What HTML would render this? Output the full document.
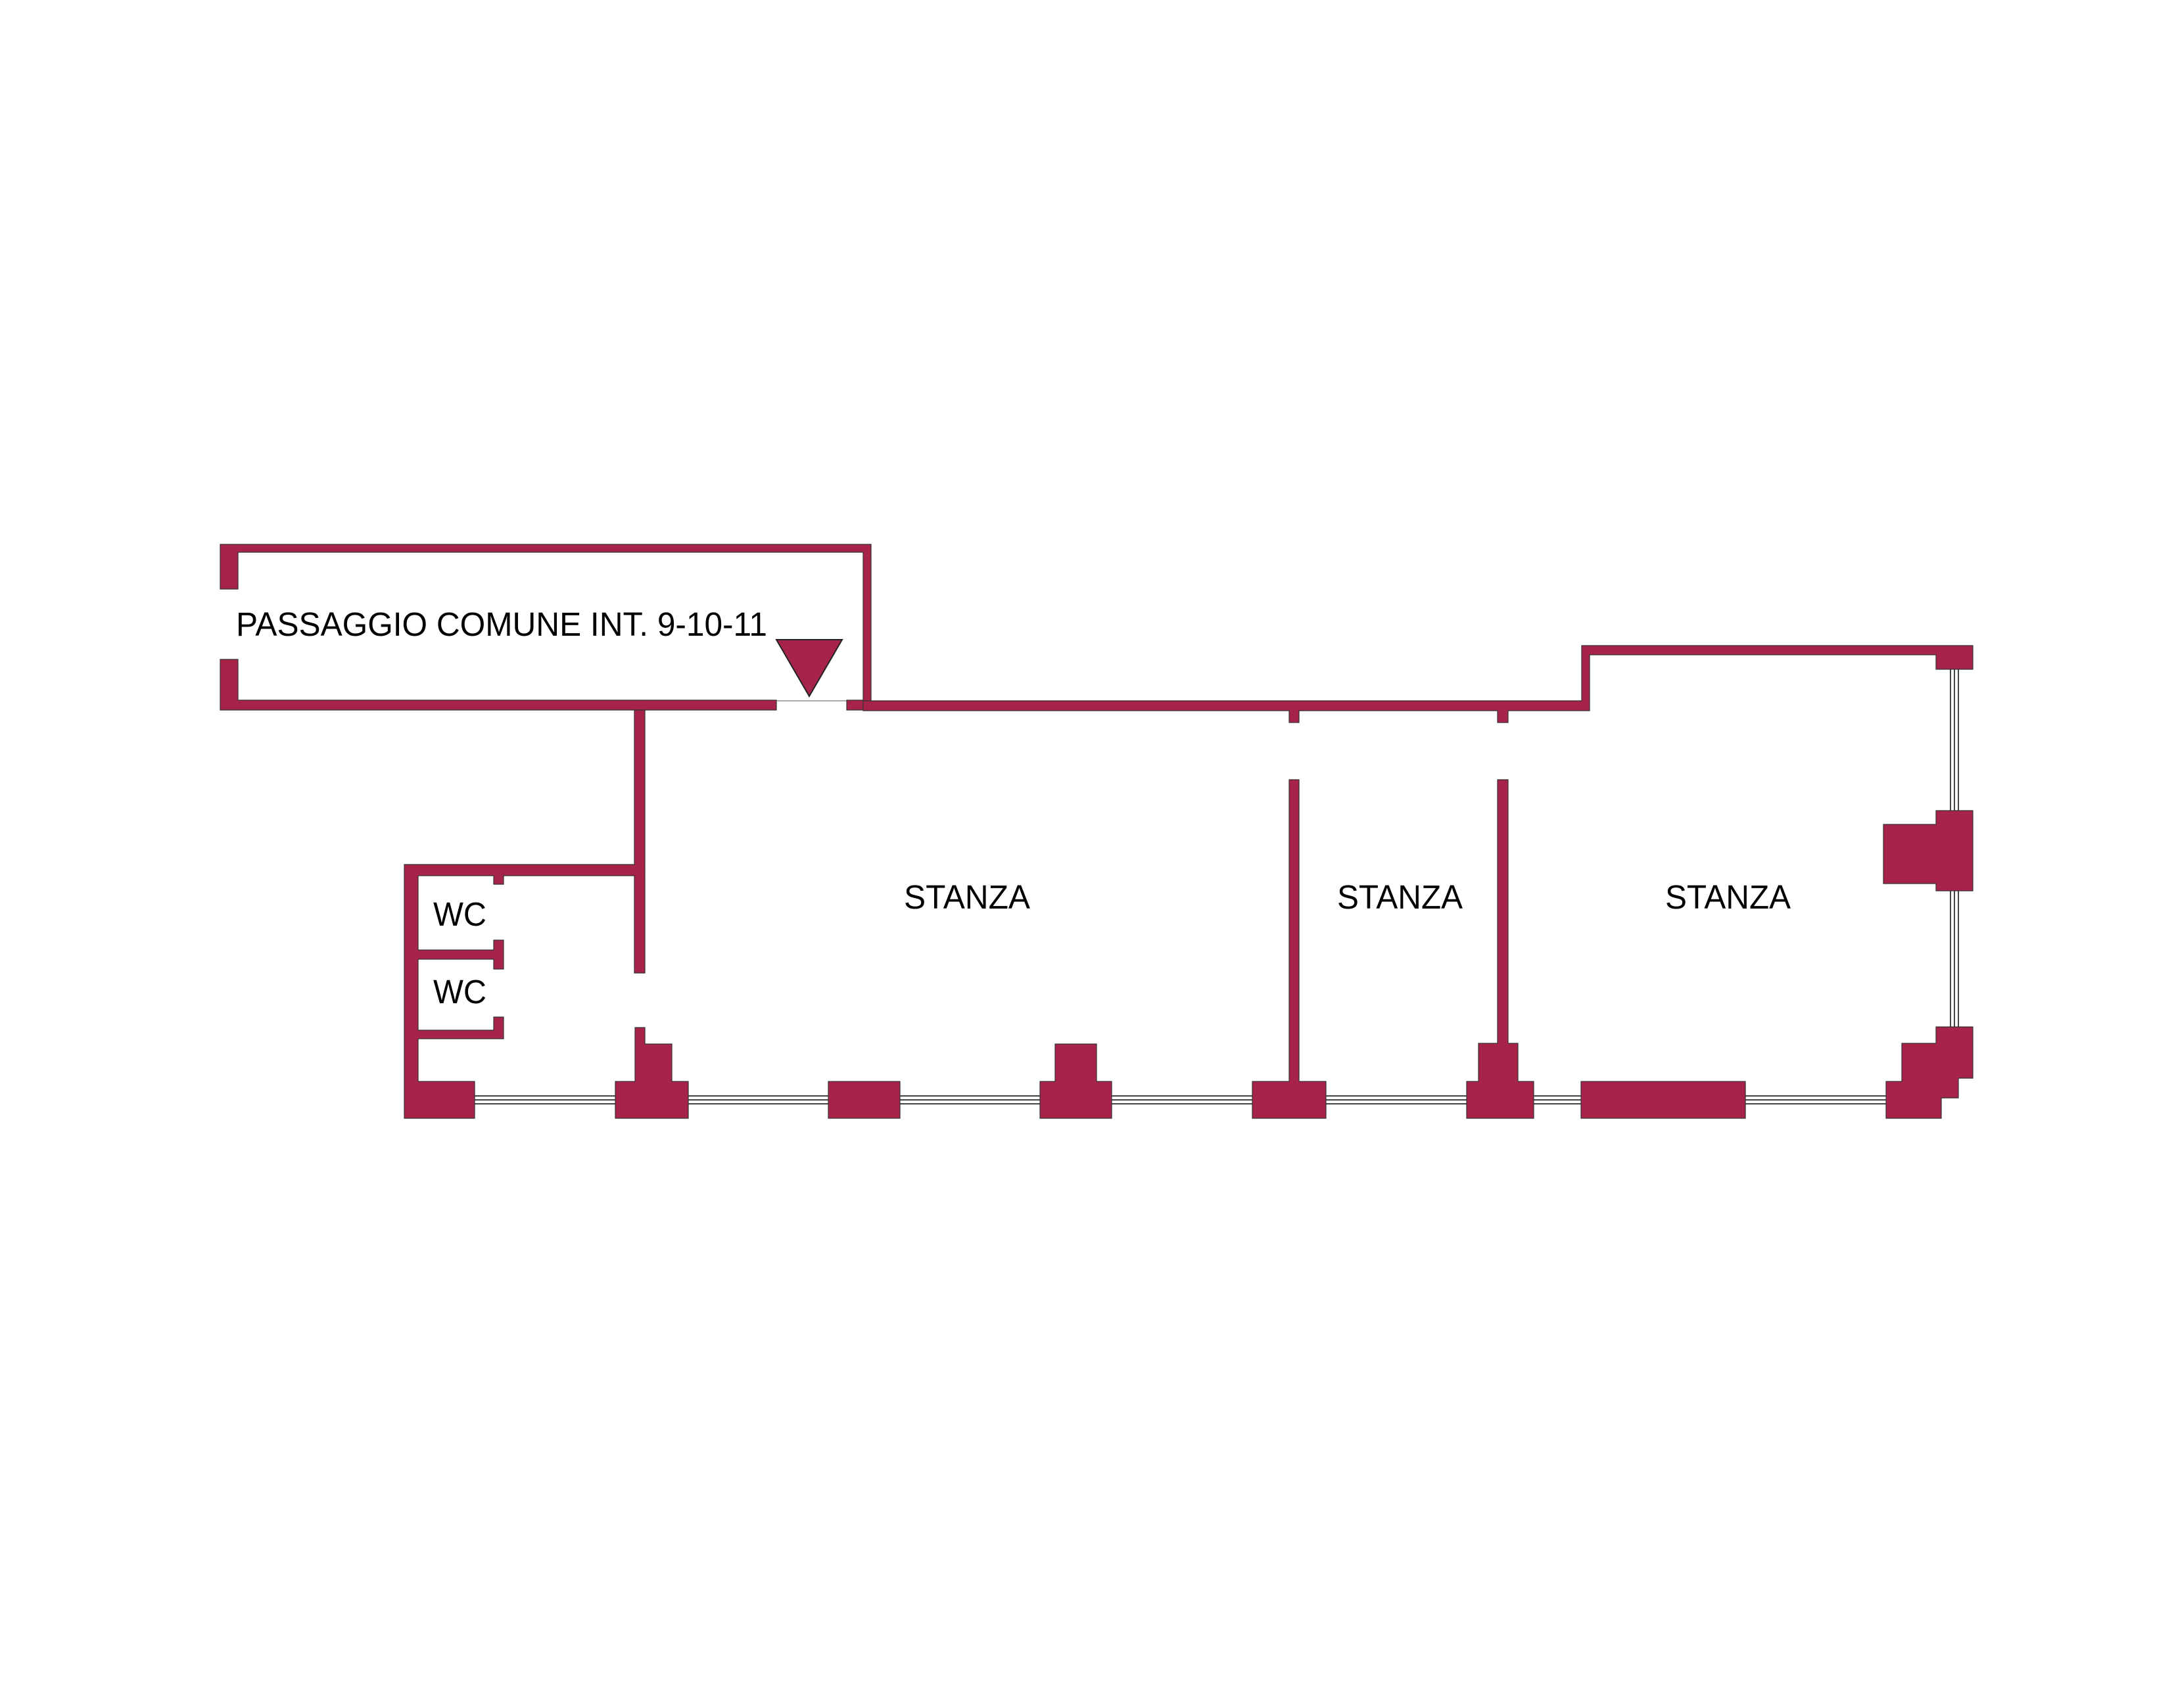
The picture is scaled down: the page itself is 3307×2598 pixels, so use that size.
<!DOCTYPE html>
<html><head><meta charset="utf-8"><style>html,body{margin:0;padding:0;background:#fff}svg{display:block}</style></head>
<body>
<svg width="3307" height="2598" viewBox="0 0 3307 2598" xmlns="http://www.w3.org/2000/svg">
<g stroke="#333" stroke-width="1.2">
<g fill="none" stroke="#444" stroke-width="2">
<line x1="722" y1="1667" x2="2869" y2="1667"/>
<line x1="722" y1="1673" x2="2869" y2="1673"/>
<line x1="722" y1="1679" x2="2869" y2="1679"/>
<line x1="2967" y1="1018" x2="2967" y2="1562"/>
<line x1="2973" y1="1018" x2="2973" y2="1562"/>
<line x1="2979" y1="1018" x2="2979" y2="1562"/>
</g>
<g fill="#A8234A">
<polygon points="335,828 1325,828 1325,1080 1288,1080 1288,1065 1313,1065 1313,840 362,840 362,896 335,896"/>
<polygon points="335,1003 362,1003 362,1065 1181,1065 1181,1080 335,1080"/>
<polygon points="1313,1066 2406,1066 2406,982 3001,982 3001,1018 2945,1018 2945,996 2418,996 2418,1081 2294,1081 2294,1099 2278,1099 2278,1081 1976,1081 1976,1099 1961,1099 1961,1081 1313,1081"/>
<polygon points="965,1080 981,1080 981,1480 965,1480 965,1332 766,1332 766,1345 751,1345 751,1332 636,1332 636,1445 751,1445 751,1430 766,1430 766,1474 751,1474 751,1459 636,1459 636,1567 751,1567 751,1547 766,1547 766,1580 636,1580 636,1645 722,1645 722,1701 615,1701 615,1315 965,1315"/>
<polygon points="966,1563 981,1563 981,1588 1022,1588 1022,1645 1047,1645 1047,1701 936,1701 936,1645 966,1645"/>
<rect x="1260" y="1645" width="109" height="56"/>
<polygon points="1605,1588 1668,1588 1668,1645 1691,1645 1691,1701 1582,1701 1582,1645 1605,1645"/>
<polygon points="1961,1186 1976,1186 1976,1645 2017,1645 2017,1701 1905,1701 1905,1645 1961,1645"/>
<polygon points="2278,1186 2294,1186 2294,1587 2309,1587 2309,1645 2333,1645 2333,1701 2231,1701 2231,1645 2249,1645 2249,1587 2278,1587"/>
<rect x="2405" y="1645" width="250" height="56"/>
<polygon points="2953,1701 2869,1701 2869,1645 2893,1645 2893,1587 2945,1587 2945,1562 3001,1562 3001,1640 2979,1640 2979,1670 2953,1670"/>
<polygon points="2945,1233 3001,1233 3001,1355 2945,1355 2945,1344 2865,1344 2865,1254 2945,1254"/>
<polygon points="1181,973 1281,973 1231,1059" stroke="#222" stroke-width="2"/>
</g>
</g>
<line x1="1181" y1="1066" x2="1288" y2="1066" stroke="#555" stroke-width="1"/>
<g font-family="Liberation Sans, Arial, sans-serif" fill="#000">
<text x="359" y="967" font-size="51" textLength="808" lengthAdjust="spacingAndGlyphs">PASSAGGIO COMUNE INT. 9-10-11</text>
<text x="659" y="1408" font-size="51" textLength="81" lengthAdjust="spacingAndGlyphs">WC</text>
<text x="659" y="1526" font-size="51" textLength="81" lengthAdjust="spacingAndGlyphs">WC</text>
<text x="1375" y="1382" font-size="51" textLength="192" lengthAdjust="spacingAndGlyphs">STANZA</text>
<text x="2034" y="1382" font-size="51" textLength="191" lengthAdjust="spacingAndGlyphs">STANZA</text>
<text x="2533" y="1382" font-size="51" textLength="191" lengthAdjust="spacingAndGlyphs">STANZA</text>
</g>
</svg>
</body></html>
